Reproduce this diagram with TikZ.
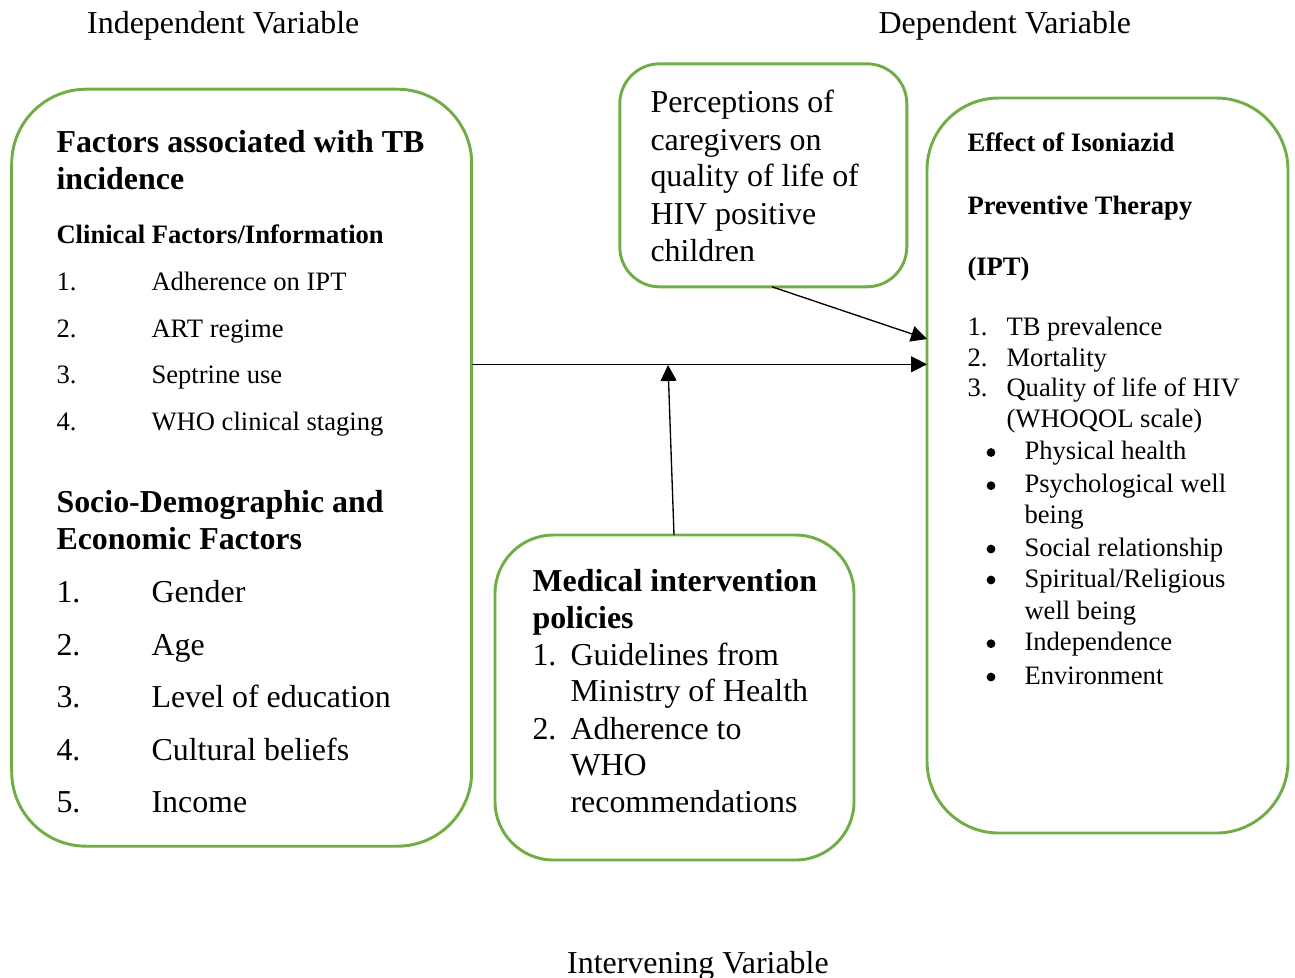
\documentclass[tikz,border=0pt]{standalone}
\usepackage{fontspec}
\setmainfont{Liberation Serif}
\usetikzlibrary{arrows.meta}
\definecolor{boxgreen}{RGB}{112,173,71}
\def\pxu{0.376pt}
\begin{document}
\begin{tikzpicture}[x=0.376pt,y=-0.376pt,
  box/.style={draw=boxgreen, line width=1.1pt, rounded corners=#1, inner sep=0pt, outer sep=0pt},
  t12/.style={anchor=base west, inner sep=0pt, font=\fontsize{12}{14}\selectfont},
  t10/.style={anchor=base west, inner sep=0pt, font=\fontsize{10}{12}\selectfont},
  b12/.style={anchor=base west, inner sep=0pt, font=\fontsize{12}{14}\selectfont\bfseries},
  b10/.style={anchor=base west, inner sep=0pt, font=\fontsize{10}{12}\selectfont\bfseries},
  bul/.style={circle, fill=black, inner sep=0pt, minimum size=3.3pt},
  conn/.style={draw=black, line width=0.5pt, -{Triangle[length=6pt,width=6pt]}}
]
\useasboundingbox (0,0) rectangle (1295,977);

% boxes
\node[box=28pt, minimum width={460*\pxu}, minimum height={757*\pxu}] (left) at (241.7,467.7) {};
\node[box=15pt, minimum width={287*\pxu}, minimum height={223*\pxu}] (perc) at (763.3,175.3) {};
\node[box=27pt, minimum width={361*\pxu}, minimum height={735*\pxu}] (right) at (1107.5,465.5) {};
\node[box=22pt, minimum width={359*\pxu}, minimum height={325*\pxu}] (med) at (674.5,697.5) {};

% headings
\node[t12] (hInd) at (86.7,33) {Independent Variable};
\node[t12] (hDep) at (878,33) {Dependent Variable};
\node[t12] (hInt) at (566.7,973) {Intervening Variable};

% left box
\node[b12] (L1) at (56,152.7) {Factors associated with TB};
\node[b12] (L2) at (56,189) {incidence};
\node[b10] (L3) at (56,243) {Clinical Factors/Information};
\node[t10] (Ln1) at (56,290) {1.};
\node[t10] (Lt1) at (151,290) {Adherence on IPT};
\node[t10] (Ln2) at (56,337) {2.};
\node[t10] (Lt2) at (151,337) {ART regime};
\node[t10] (Ln3) at (56,383) {3.};
\node[t10] (Lt3) at (151,383) {Septrine use};
\node[t10] (Ln4) at (56,430) {4.};
\node[t10] (Lt4) at (151,430) {WHO clinical staging};
\node[b12] (L4) at (56,512) {Socio-Demographic and};
\node[b12] (L5) at (56,549) {Economic Factors};
\node[t12] (Sn1) at (56,602) {1.};
\node[t12] (St1) at (151,602) {Gender};
\node[t12] (Sn2) at (56,655) {2.};
\node[t12] (St2) at (151,655) {Age};
\node[t12] (Sn3) at (56,707) {3.};
\node[t12] (St3) at (151,707) {Level of education};
\node[t12] (Sn4) at (56,760) {4.};
\node[t12] (St4) at (151,760) {Cultural beliefs};
\node[t12] (Sn5) at (56,812) {5.};
\node[t12] (St5) at (151,812) {Income};

% perception box
\node[t12] (P1) at (650,112.7) {Perceptions of};
\node[t12] (P2) at (650,150) {caregivers on};
\node[t12] (P3) at (650,186.7) {quality of life of};
\node[t12] (P4) at (650,224) {HIV positive};
\node[t12] (P5) at (650,261) {children};

% right box
\node[b10] (R1) at (967,151.7) {Effect of Isoniazid};
\node[b10] (R2) at (967,214) {Preventive Therapy};
\node[b10] (R3) at (967,275) {(IPT)};
\node[t10] (Rn1) at (967,335.7) {1.};
\node[t10] (Rt1) at (1006,335.7) {TB prevalence};
\node[t10] (Rn2) at (967,366) {2.};
\node[t10] (Rt2) at (1006,366) {Mortality};
\node[t10] (Rn3) at (967,396) {3.};
\node[t10] (Rt3) at (1006,396) {Quality of life of HIV};
\node[t10] (Rt3b) at (1006,427) {(WHOQOL scale)};
\node[bul] (Rb1) at (991,452.5) {};
\node[t10] (Rs1) at (1024,459.5) {Physical health};
\node[bul] (Rb2) at (991,485.7) {};
\node[t10] (Rs2) at (1024,492.7) {Psychological well};
\node[t10] (Rs2b) at (1024,523) {being};
\node[bul] (Rb3) at (991,549) {};
\node[t10] (Rs3) at (1024,556) {Social relationship};
\node[bul] (Rb4) at (991,580) {};
\node[t10] (Rs4) at (1024,587) {Spiritual/Religious};
\node[t10] (Rs4b) at (1024,619) {well being};
\node[bul] (Rb5) at (991,643.7) {};
\node[t10] (Rs5) at (1024,650.7) {Independence};
\node[bul] (Rb6) at (991,677) {};
\node[t10] (Rs6) at (1024,684) {Environment};

% medical box
\node[b12] (M1) at (532,591.7) {Medical intervention};
\node[b12] (M2) at (532,628) {policies};
\node[t12] (Mn1) at (532,665.7) {1.};
\node[t12] (Mt1) at (570,665.7) {Guidelines from};
\node[t12] (Mt1b) at (570,701.7) {Ministry of Health};
\node[t12] (Mn2) at (532,739) {2.};
\node[t12] (Mt2) at (570,739) {Adherence to};
\node[t12] (Mt2b) at (570,775) {WHO};
\node[t12] (Mt2c) at (570,812) {recommendations};

% connectors
\coordinate (hy) at (0,364.3);
\coordinate (pa) at (772,0);
\coordinate (pb) at (0,339);
\coordinate (va) at (674,0);
\coordinate (vt) at (668,365);
\draw[conn] (left.east |- hy) -- (right.west |- hy);
\draw[conn] (perc.south -| pa) -- (right.west |- pb);
\draw[conn] (med.north -| va) -- (vt);
\end{tikzpicture}
\end{document}
